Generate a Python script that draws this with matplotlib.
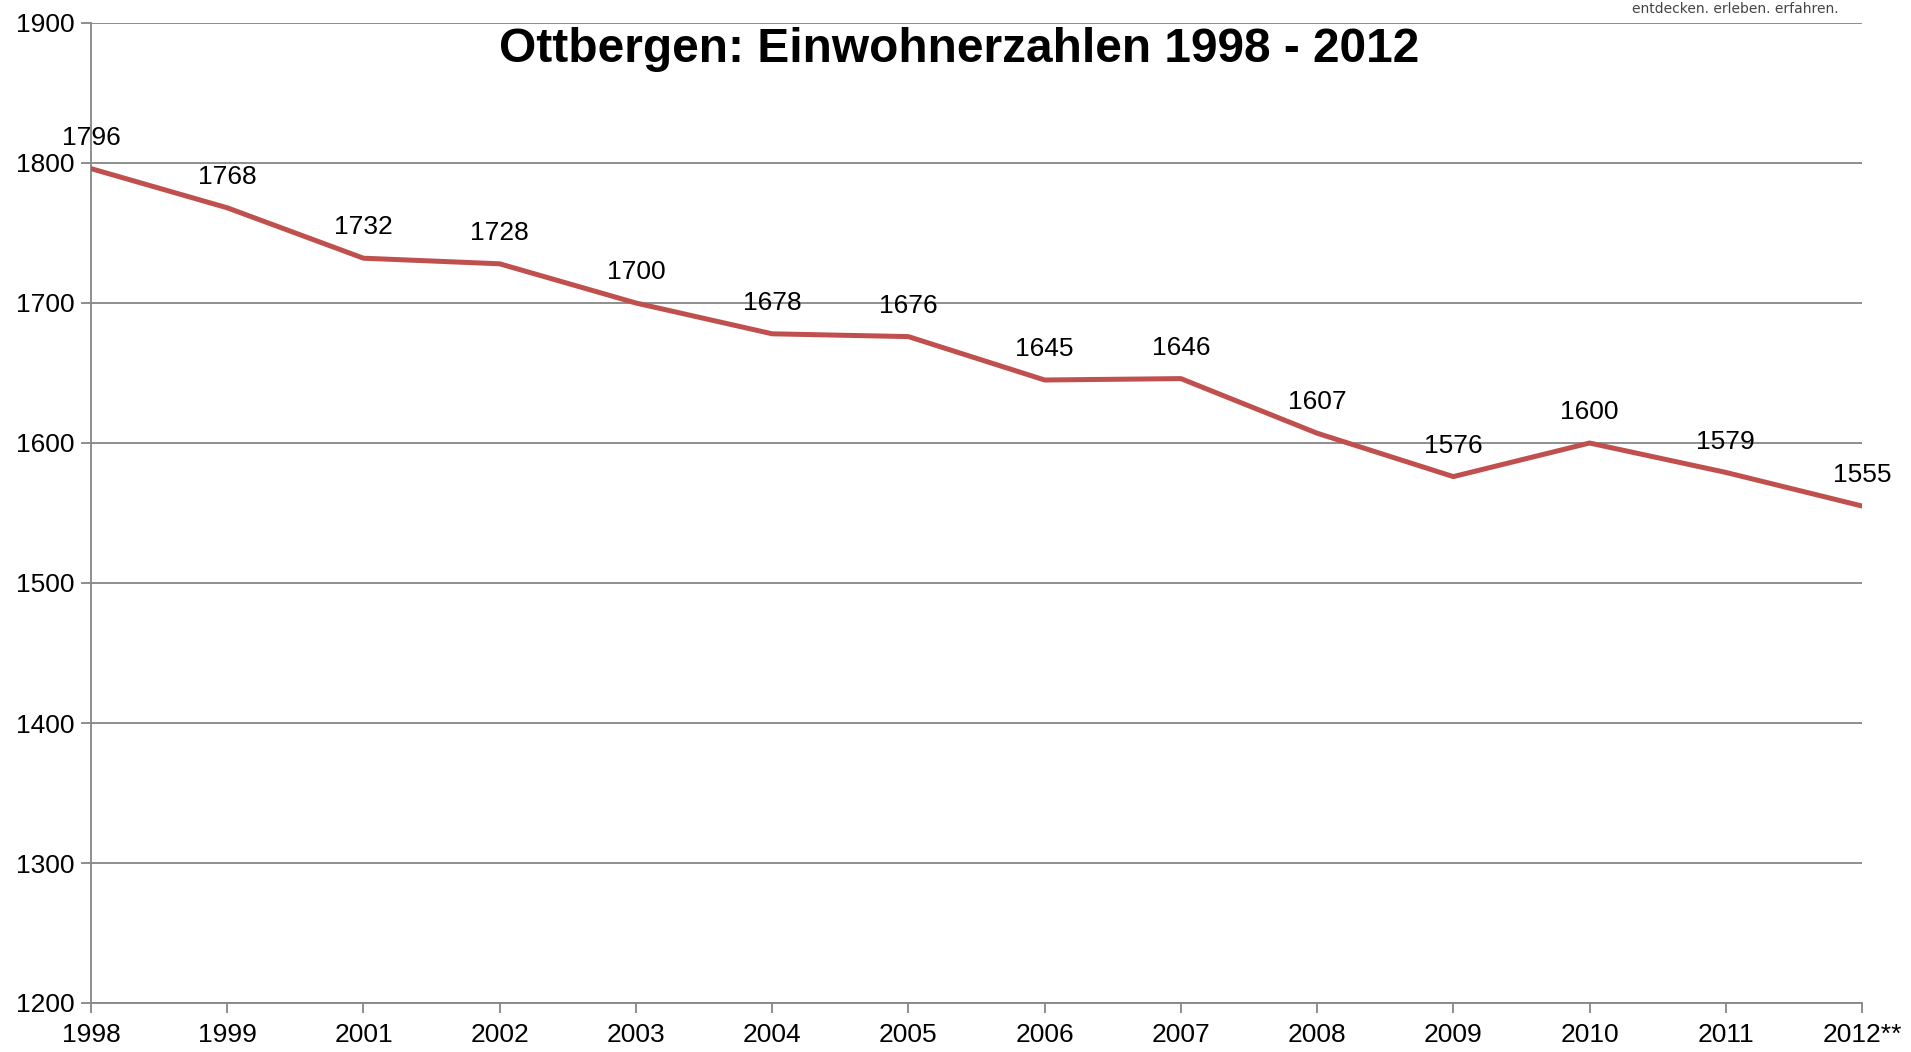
import matplotlib.pyplot as plt
from matplotlib import font_manager

years = ["1998", "1999", "2001", "2002", "2003", "2004", "2005", "2006",
         "2007", "2008", "2009", "2010", "2011", "2012**"]
einwohner = [1796, 1768, 1732, 1728, 1700, 1678, 1676, 1645,
             1646, 1607, 1576, 1600, 1579, 1555]
yticks = [1200, 1300, 1400, 1500, 1600, 1700, 1800, 1900]

LINE = "#C0504D"
GRID = "#868686"

names = {f.name for f in font_manager.fontManager.ttflist}
title_font = "Liberation Sans Narrow" if "Liberation Sans Narrow" in names else "Liberation Sans"

plt.rcParams["font.family"] = ["Liberation Sans", "DejaVu Sans"]

fig = plt.figure(figsize=(19.11, 10.52), dpi=100)
ax = fig.add_axes([91 / 1911, 1 - 1003 / 1052, (1862 - 91) / 1911, (1003 - 23) / 1052])

x = list(range(len(years)))
ax.plot(x, einwohner, color=LINE, linewidth=3.6, solid_joinstyle="round", zorder=3)

# Datenbeschriftung ueber den Punkten
for xi, v in zip(x, einwohner):
    ax.annotate(str(v), (xi, v), xytext=(0, 13.5), textcoords="offset points",
                ha="center", va="bottom", fontsize=19, color="black", zorder=4)

ax.set_xlim(0, len(years) - 1)
ax.set_ylim(1200, 1900)
ax.set_xticks(x)
ax.set_xticklabels(years)
ax.set_yticks(yticks)
ax.yaxis.grid(True, color=GRID, linewidth=1.3)
ax.set_axisbelow(True)

for s in ["top", "right"]:
    ax.spines[s].set_visible(False)
for s in ["left", "bottom"]:
    ax.spines[s].set_color(GRID)
    ax.spines[s].set_linewidth(1.3)

ax.tick_params(axis="both", direction="out", length=7, width=1.3, color=GRID,
               labelsize=19, labelcolor="black")
ax.tick_params(axis="x", pad=7.5)
ax.tick_params(axis="y", pad=5)

fig.text(959 / 1911, 1 - 49 / 1052, "Ottbergen: Einwohnerzahlen 1998 - 2012",
         ha="center", va="center", fontsize=34.5, fontweight="bold",
         family=[title_font, "DejaVu Sans"])
fig.text(1735 / 1911, 1 - 9 / 1052, "entdecken. erleben. erfahren.",
         ha="center", va="center", fontsize=10, color="#444444",
         family=["DejaVu Sans"])

fig.savefig("out.png", dpi=100)
